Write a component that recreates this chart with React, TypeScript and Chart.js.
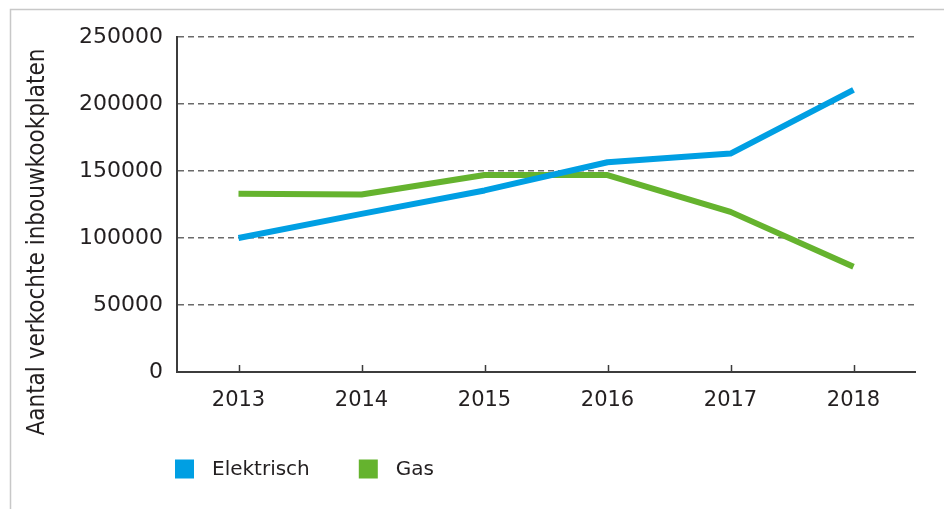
import React, { useEffect, useRef } from "react";
import { Chart, registerables } from "chart.js";

Chart.register(...registerables);

const years = ["2013", "2014", "2015", "2016", "2017", "2018"];
const elektrisch = [100000, 118000, 135500, 156500, 163000, 210500];
const gas = [133000, 132500, 147000, 147000, 119500, 78500];
const seriesLabels = ["Elektrisch", "Gas"];
const seriesColors = ["#009fe3", "#65b32e"];
const yTitle = "Aantal verkochte inbouwkookplaten";
const yTicks = [0, 50000, 100000, 150000, 200000, 250000];

const TEXT = "#231f20";
const AXIS = "#3c3c3c";

const decorPlugin = {
  id: "decor",
  beforeDraw(chart: any) {
    const ctx = chart.ctx;
    ctx.save();
    ctx.strokeStyle = "#c8c8c8";
    ctx.lineWidth = 1.5;
    ctx.beginPath();
    ctx.moveTo(10.5, chart.height);
    ctx.lineTo(10.5, 9.5);
    ctx.lineTo(chart.width, 9.5);
    ctx.stroke();
    ctx.restore();
  },
  afterDraw(chart: any) {
    const ctx = chart.ctx;
    const area = chart.chartArea;
    const xs = chart.scales.x;
    // inner tick marks on x axis
    ctx.save();
    ctx.strokeStyle = AXIS;
    ctx.lineWidth = 1.5;
    ctx.beginPath();
    for (let i = 0; i < years.length; i++) {
      const px = Math.round(xs.getPixelForValue(i)) + 0.5;
      ctx.moveTo(px, area.bottom);
      ctx.lineTo(px, area.bottom - 7);
    }
    ctx.stroke();
    ctx.restore();

    // y title
    ctx.save();
    ctx.fillStyle = TEXT;
    ctx.font = "24px 'DejaVu Sans Condensed', 'DejaVu Sans', sans-serif";
    ctx.translate(38, 242);
    ctx.rotate(-Math.PI / 2);
    ctx.textAlign = "center";
    ctx.textBaseline = "middle";
    ctx.fillText(yTitle, 0, 0);
    ctx.restore();

    // legend
    ctx.save();
    ctx.font = "20px 'DejaVu Sans', sans-serif";
    ctx.textBaseline = "middle";
    ctx.textAlign = "left";
    let x = area.left - 2;
    const y = 469;
    chart.data.datasets.forEach((ds: any) => {
      ctx.fillStyle = ds.borderColor;
      ctx.fillRect(x, y - 9.5, 19, 19);
      ctx.fillStyle = TEXT;
      const tx = x + 37;
      ctx.fillText(ds.label, tx, y + 1);
      x = tx + ctx.measureText(ds.label).width + 49;
    });
    ctx.restore();
  },
};

export default function App() {
  const ref = useRef<HTMLCanvasElement | null>(null);
  useEffect(() => {
    document.body.style.margin = "0";
    const canvas = ref.current!;
    const chart = new Chart(canvas, {
      type: "line",
      data: {
        labels: years,
        datasets: [
          {
            label: seriesLabels[0],
            data: elektrisch,
            borderColor: seriesColors[0],
            backgroundColor: seriesColors[0],
            borderWidth: 6,
            pointRadius: 0,
            tension: 0,
            borderCapStyle: "butt",
            borderJoinStyle: "round",
          },
          {
            label: seriesLabels[1],
            data: gas,
            borderColor: seriesColors[1],
            backgroundColor: seriesColors[1],
            borderWidth: 6,
            pointRadius: 0,
            tension: 0,
            borderCapStyle: "butt",
            borderJoinStyle: "round",
          },
        ],
      },
      options: {
        animation: false,
        responsive: false,
        maintainAspectRatio: false,
        layout: { padding: { top: 37, right: 29, left: 0, bottom: 0 } },
        plugins: {
          legend: { display: false },
          tooltip: { enabled: false },
        },
        scales: {
          x: {
            offset: true,
            grid: { display: false, drawTicks: false },
            border: { display: true, color: AXIS, width: 2 },
            ticks: {
              color: TEXT,
              font: { family: "'DejaVu Sans', sans-serif", size: 21 },
              padding: 16,
              maxRotation: 0,
            },
            afterFit: (s: any) => {
              s.height = 137;
            },
          },
          y: {
            min: 0,
            max: 250000,
            afterBuildTicks: (s: any) => {
              s.ticks = yTicks.map((v) => ({ value: v }));
            },
            grid: {
              color: "#6a6a6a",
              lineWidth: 1.5,
              drawTicks: false,
            },
            border: { display: true, color: AXIS, width: 2, dash: [6, 4] },
            ticks: {
              color: TEXT,
              font: { family: "'DejaVu Sans', sans-serif", size: 22 },
              padding: 14,
              callback: (v: any) => String(v),
            },
            afterFit: (s: any) => {
              s.width = 177;
            },
          },
        },
      },
      plugins: [decorPlugin],
    });
    return () => chart.destroy();
  }, []);
  return (
    <div style={{ position: "relative", width: 944, height: 509, background: "#fff" }}>
      <canvas ref={ref} width={944} height={509} style={{ display: "block" }} />
    </div>
  );
}
